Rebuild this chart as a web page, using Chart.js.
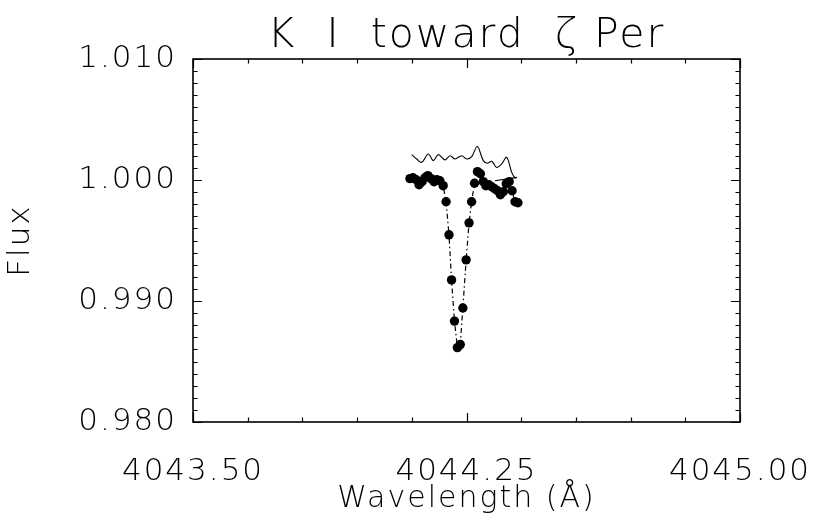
<!DOCTYPE html>
<html><head><meta charset="utf-8">
<script src="https://cdn.jsdelivr.net/npm/chart.js@4/dist/chart.umd.min.js"></script>
<style>html,body{margin:0;padding:0;background:#fff}</style>
</head><body>
<canvas id="c" width="820" height="527"></canvas>
<script>
const titleText = 'K  I  toward  ζ Per';
const xAxisTitle = 'Wavelength (Å)';
const yAxisTitle = 'Flux';
const xTickLabels = ['4043.50', '4044.25', '4045.00'];
const yTickLabels = ['0.980', '0.990', '1.000', '1.010'];
const xMinorStep = 0.15;
const yMinorStep = 0.001;

// observed K I spectrum (filled dots, dash-dot line)
const obsWave = [4044.095, 4044.103, 4044.112, 4044.120, 4044.128, 4044.136, 4044.144, 4044.153, 4044.161, 4044.169,
  4044.177, 4044.186, 4044.194, 4044.202, 4044.209, 4044.217, 4044.225, 4044.233, 4044.240, 4044.249,
  4044.257, 4044.264, 4044.272, 4044.280, 4044.288, 4044.296, 4044.303, 4044.311, 4044.319, 4044.327,
  4044.335, 4044.343, 4044.351, 4044.359, 4044.367, 4044.375, 4044.383, 4044.391];
const obsFlux = [1.00011, 1.00019, 1.00002, 0.99961, 0.99986, 1.00019, 1.00036, 1.00011, 0.99986, 1.00002,
  0.99994, 0.99953, 0.99820, 0.99547, 0.99174, 0.98834, 0.98615, 0.98640, 0.98942, 0.99340,
  0.99646, 0.99820, 0.99973, 1.00069, 1.00052, 0.99986, 0.99953, 0.99961, 0.99944, 0.99928,
  0.99911, 0.99878, 0.99903, 0.99969, 0.99986, 0.99911, 0.99820, 0.99812];

// comparison spectrum (solid line, offset above)
const refWave = [4044.0997, 4044.1134, 4044.1271, 4044.1452, 4044.1590, 4044.1727, 4044.1910, 4044.2048,
  4044.2185, 4044.2368, 4044.2505, 4044.2643, 4044.2796, 4044.2961, 4044.3070, 4044.3191, 4044.3328,
  4044.3465, 4044.3602, 4044.3740, 4044.3830, 4044.3877];
const refFlux = [1.00210, 1.00174, 1.00146, 1.00215, 1.00160, 1.00210, 1.00166, 1.00201,
  1.00174, 1.00201, 1.00174, 1.00193, 1.00276, 1.00160, 1.00138, 1.00154, 1.00104,
  1.00133, 1.00187, 1.00063, 1.00017, 1.00022];
const refTailWave = [4044.3877, 4044.3281];
const refTailFlux = [1.00022, 0.99994];

const FONT = "'DejaVu Sans', 'Liberation Sans', sans-serif";
const zip = (xs, ys) => xs.map((x, i) => ({x: x, y: ys[i]}));

function makeTicks(labels, step) {
  const min = parseFloat(labels[0]), max = parseFloat(labels[labels.length - 1]);
  const n = Math.round((max - min) / step);
  const t = [];
  for (let i = 0; i <= n; i++) t.push({value: min + i * step});
  return t;
}
function labelFor(labels, v) {
  for (const l of labels) if (Math.abs(parseFloat(l) - v) < 1e-7) return l;
  return '';
}
function noPad(s) { s.paddingLeft = 0; s.paddingRight = 0; s.paddingTop = 0; s.paddingBottom = 0; }

const spacingPlugin = {
  id: 'spacing',
  beforeLayout(chart) { chart.ctx.letterSpacing = '2px'; },
  beforeDraw(chart) { chart.ctx.letterSpacing = '2px'; }
};

const framePlugin = {
  id: 'frame',
  afterDraw(chart) {
    const ctx = chart.ctx, ca = chart.chartArea;
    const xs = chart.scales.x, ys = chart.scales.y;
    ctx.save();
    ctx.strokeStyle = '#000';
    ctx.lineWidth = 1.2;
    ctx.beginPath();
    xs.ticks.forEach(t => {
      const p = Math.round(xs.getPixelForValue(t.value)) + 0.5;
      const len = labelFor(xTickLabels, t.value) ? 9 : 4.5;
      ctx.moveTo(p, ca.bottom); ctx.lineTo(p, ca.bottom - len);
      ctx.moveTo(p, ca.top); ctx.lineTo(p, ca.top + len);
    });
    ys.ticks.forEach(t => {
      const p = Math.round(ys.getPixelForValue(t.value)) + 0.5;
      const len = labelFor(yTickLabels, t.value) ? 9 : 4.5;
      ctx.moveTo(ca.left, p); ctx.lineTo(ca.left + len, p);
      ctx.moveTo(ca.right, p); ctx.lineTo(ca.right - len, p);
    });
    ctx.stroke();
    ctx.lineWidth = 1.6;
    ctx.strokeRect(ca.left, ca.top, ca.right - ca.left, ca.bottom - ca.top);
    ctx.restore();
  }
};

const xMin = parseFloat(xTickLabels[0]), xMax = parseFloat(xTickLabels[xTickLabels.length - 1]);

new Chart(document.getElementById('c'), {
  type: 'scatter',
  data: {
    datasets: [
      {
        data: zip(refWave, refFlux), showLine: true, borderColor: '#000', borderWidth: 1.1,
        pointRadius: 0, tension: 0.35, fill: false
      },
      {
        data: zip(refTailWave, refTailFlux), showLine: true, borderColor: '#000', borderWidth: 1.1,
        pointRadius: 0, fill: false
      },
      {
        data: zip(obsWave, obsFlux), showLine: true, borderColor: '#000', borderWidth: 1.2,
        borderDash: [5, 3, 1.5, 3], pointRadius: 4.7, pointBackgroundColor: '#000',
        pointBorderColor: '#000', pointBorderWidth: 0, fill: false
      }
    ]
  },
  options: {
    responsive: false,
    animation: false,
    devicePixelRatio: 1,
    layout: {padding: {left: 0, right: 80, top: 0, bottom: 0}},
    plugins: {
      legend: {display: false},
      tooltip: {enabled: false},
      title: {display: false}
    },
    scales: {
      x: {
        type: 'linear', min: xMin, max: xMax,
        afterBuildTicks: s => { s.ticks = makeTicks(xTickLabels, xMinorStep); },
        afterFit: s => { s.height = 105; noPad(s); },
        grid: {display: false, drawTicks: false},
        border: {display: false},
        ticks: {
          autoSkip: false, maxRotation: 0, padding: 31, color: '#000',
          font: {family: FONT, size: 31, weight: '200'},
          callback: v => labelFor(xTickLabels, v)
        },
        title: {
          display: true, text: xAxisTitle, color: '#000',
          font: {family: FONT, size: 30, weight: '200', lineHeight: 1.2},
          padding: {top: 0, bottom: 10}
        }
      },
      x2: {
        type: 'linear', position: 'top', min: xMin, max: xMax,
        afterFit: s => { s.height = 59; noPad(s); },
        grid: {display: false, drawTicks: false},
        border: {display: false},
        ticks: {display: false},
        title: {
          display: true, text: titleText, color: '#000',
          font: {family: FONT, size: 41, weight: '200', lineHeight: 1.0},
          padding: {top: 16, bottom: 0}
        }
      },
      y: {
        type: 'linear',
        min: parseFloat(yTickLabels[0]), max: parseFloat(yTickLabels[yTickLabels.length - 1]),
        afterBuildTicks: s => { s.ticks = makeTicks(yTickLabels, yMinorStep); },
        afterFit: s => { s.width = 193; noPad(s); },
        grid: {display: false, drawTicks: false},
        border: {display: false},
        ticks: {
          autoSkip: false, padding: 16, color: '#000',
          font: {family: FONT, size: 31, weight: '200'},
          callback: v => labelFor(yTickLabels, v)
        },
        title: {
          display: true, text: yAxisTitle, color: '#000',
          font: {family: FONT, size: 31, weight: '200', lineHeight: 1.2},
          padding: {top: 2, bottom: 0}
        }
      }
    }
  },
  plugins: [spacingPlugin, framePlugin]
});
</script>
</body></html>
